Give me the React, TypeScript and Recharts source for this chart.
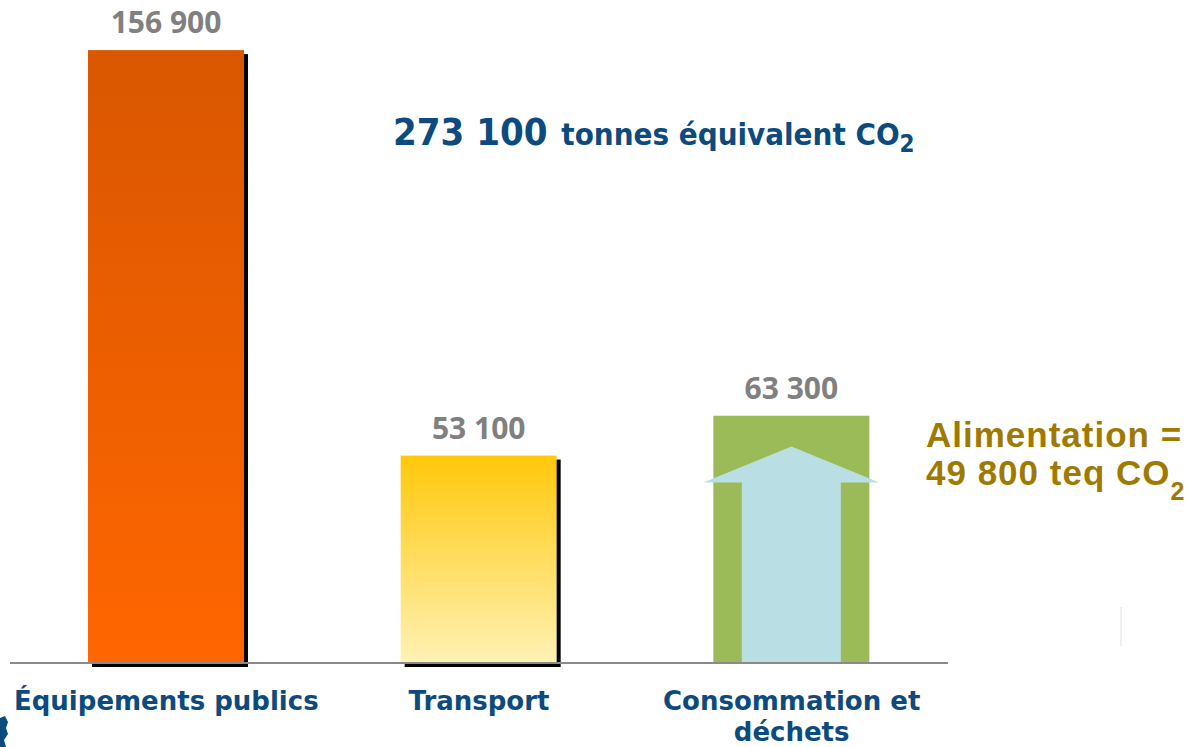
import React from 'react';
import { BarChart, Bar, XAxis, YAxis, LabelList, Cell } from 'recharts';

const categories = ['Équipements publics', 'Transport', 'Consommation et déchets'];
const emissions = [156900, 53100, 63300];
const alimentation = [null, null, 49800];
const total = '273 100';
const alimentationLabel = '49 800';

const chartData = categories.map((name, i) => ({
  name,
  value: emissions[i],
  alim: alimentation[i],
}));

const BLUE = '#0D4A7D';
const gradients = ['url(#gradOrange)', 'url(#gradYellow)', '#9BBB59'];

const fmt = (v: number) => v.toLocaleString('en-US').replace(/,/g, ' ');

// bar with a black drop shadow (not on the last one)
const ShadowBar = (props: any) => {
  const { x, y, width, height, fill, index } = props;
  if (!height) return null;
  return (
    <g>
      {index < 2 && <rect x={x + 4} y={y + 4} width={width} height={height} fill="#000" />}
      <rect x={x} y={y} width={width} height={height} fill={fill} />
    </g>
  );
};

const ArrowShape = (props: any) => {
  const { x, y, width, height } = props;
  if (!height) return null;
  const cx = x + width / 2;
  const base = y + height;
  const d = `M${cx - 49.5},${base} L${cx - 49.5},${y + 14} L${cx - 88},${y + 14} L${cx},${y - 22} L${cx + 88},${y + 14} L${cx + 49.5},${y + 14} L${cx + 49.5},${base} Z`;
  return <path d={d} fill="#B9DFE4" />;
};

const ValueLabel = (props: any) => {
  const { x, y, width, value } = props;
  return (
    <text x={x + width / 2} y={y - 17} textAnchor="middle" fill="#808080"
      style={{ fontFamily: 'Open Sans', fontWeight: 700, fontSize: 30 }}>
      {fmt(value)}
    </text>
  );
};

const CategoryTick = (props: any) => {
  const { x, y, payload } = props;
  const words = String(payload.value).split(' ');
  const lines: string[] = [];
  let cur = '';
  words.forEach((w) => {
    const next = cur ? cur + ' ' + w : w;
    if (next.length > 19 && cur) {
      lines.push(cur);
      cur = w;
    } else {
      cur = next;
    }
  });
  if (cur) lines.push(cur);
  return (
    <text x={x} y={y} textAnchor="middle" fill={BLUE}
      style={{ fontFamily: 'DejaVu Sans', fontWeight: 700, fontSize: 26 }}>
      {lines.map((l, i) => (
        <tspan key={i} x={x} dy={i === 0 ? 47 : 31}>{l}</tspan>
      ))}
    </text>
  );
};

export default function App() {
  return (
    <div style={{ position: 'absolute', left: 0, top: 0, width: 1200, height: 747, background: '#fff' }}>
      <BarChart width={1200} height={747} data={chartData}
        margin={{ top: 38, right: 252, left: 10, bottom: 0 }} barGap={-156}>
        <defs>
          <linearGradient id="gradOrange" x1="0" y1="0" x2="0" y2="1">
            <stop offset="0%" stopColor="#D95700" />
            <stop offset="100%" stopColor="#FF6600" />
          </linearGradient>
          <linearGradient id="gradYellow" x1="0" y1="0" x2="0" y2="1">
            <stop offset="0%" stopColor="#FFC80A" />
            <stop offset="100%" stopColor="#FFF2B5" />
          </linearGradient>
        </defs>
        <YAxis hide domain={[0, 160000]} />
        <Bar dataKey="value" barSize={156} shape={<ShadowBar />} isAnimationActive={false}>
          {chartData.map((_, i) => (
            <Cell key={i} fill={gradients[i]} />
          ))}
          <LabelList dataKey="value" content={<ValueLabel />} />
        </Bar>
        <Bar dataKey="alim" barSize={156} shape={<ArrowShape />} isAnimationActive={false} />
        <XAxis dataKey="name" height={84} tickLine={false} tickSize={0} tickMargin={0}
          axisLine={{ stroke: '#8A8A8A', strokeWidth: 2 }} tick={<CategoryTick />} interval={0} />
      </BarChart>
      <svg width={1200} height={747} style={{ position: 'absolute', left: 0, top: 0, pointerEvents: 'none' }}>
        <text x={393} y={145} fill={BLUE} style={{ fontFamily: 'DejaVu Sans Condensed, DejaVu Sans', fontWeight: 700 }}>
          <tspan fontSize={38}>{total}</tspan>
          <tspan fontSize={31} dx={4}> tonnes équivalent CO</tspan>
          <tspan fontSize={24} dy={7}>2</tspan>
        </text>
        <text x={926} y={447} fill="#A07A00" letterSpacing={1}
          style={{ fontFamily: 'Liberation Sans', fontWeight: 700, fontSize: 35 }}>
          Alimentation =
        </text>
        <text x={926} y={485} fill="#A07A00" letterSpacing={1}
          style={{ fontFamily: 'Liberation Sans', fontWeight: 700, fontSize: 35 }}>
          <tspan>{alimentationLabel} teq CO</tspan>
          <tspan fontSize={25} dy={15}>2</tspan>
        </text>
        <line x1={1121} y1={607} x2={1121} y2={646} stroke="#EAEAEA" strokeWidth={1.5} />
        <path d="M0,718 L5,716 L8,722 L6,728 L8,734 L4,740 L6,747 L0,747 Z" fill={BLUE} />
      </svg>
    </div>
  );
}
